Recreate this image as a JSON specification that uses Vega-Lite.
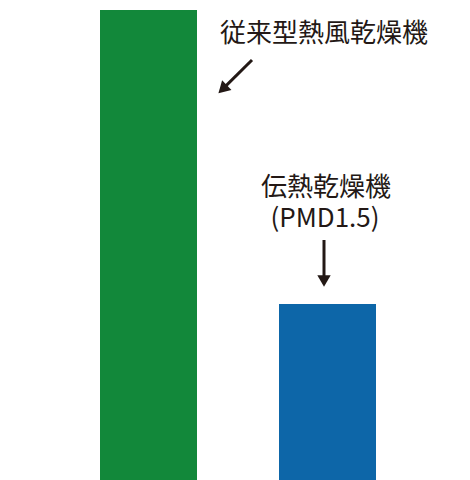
{
  "$schema": "https://vega.github.io/schema/vega-lite/v6.json",
  "width": 470,
  "height": 480,
  "padding": 0,
  "autosize": {"type": "fit", "contains": "padding"},
  "config": {"view": {"stroke": null}},
  "datasets": {
    "bars": [
      {"name": "従来型熱風乾燥機", "left": 100, "right": 197, "value": 470},
      {"name": "伝熱乾燥機 (PMD1.5)", "left": 279, "right": 376, "value": 176}
    ],
    "labels": [
      {"text": "従来型熱風乾燥機", "px": 324, "py": 446},
      {"text": "伝熱乾燥機", "px": 326, "py": 292.5},
      {"text": "(PMD1.5)", "px": 325, "py": 261.5}
    ],
    "arrows": [
      {"x0": 252, "y0": 420, "x1": 222.6, "y1": 390.9, "angle": 226},
      {"x0": 324, "y0": 240, "x1": 324, "y1": 199, "angle": 180}
    ]
  },
  "layer": [
    {
      "data": {"name": "bars"},
      "mark": {"type": "bar"},
      "encoding": {
        "x": {"field": "left", "type": "quantitative", "scale": {"domain": [0, 470], "nice": false, "zero": false}, "axis": null},
        "x2": {"field": "right"},
        "y": {"field": "value", "type": "quantitative", "scale": {"domain": [0, 480], "nice": false}, "axis": null},
        "y2": {"datum": 0},
        "color": {"field": "name", "type": "nominal", "scale": {"domain": ["従来型熱風乾燥機", "伝熱乾燥機 (PMD1.5)"], "range": ["#12883a", "#0d66a8"]}, "legend": null}
      }
    },
    {
      "data": {"name": "arrows"},
      "mark": {"type": "rule", "strokeWidth": 3, "color": "#231815"},
      "encoding": {
        "x": {"field": "x0", "type": "quantitative"},
        "y": {"field": "y0", "type": "quantitative"},
        "x2": {"field": "x1"},
        "y2": {"field": "y1"}
      }
    },
    {
      "data": {"name": "arrows"},
      "mark": {"type": "point", "shape": "triangle-up", "filled": true, "size": 180, "color": "#231815", "opacity": 1},
      "encoding": {
        "x": {"field": "x1", "type": "quantitative"},
        "y": {"field": "y1", "type": "quantitative"},
        "angle": {"field": "angle", "type": "quantitative", "scale": null}
      }
    },
    {
      "data": {"name": "labels"},
      "mark": {"type": "text", "font": "Noto Sans CJK JP", "fontSize": 26, "color": "#231815", "align": "center", "baseline": "middle"},
      "encoding": {
        "x": {"field": "px", "type": "quantitative"},
        "y": {"field": "py", "type": "quantitative"},
        "text": {"field": "text"}
      }
    }
  ]
}
